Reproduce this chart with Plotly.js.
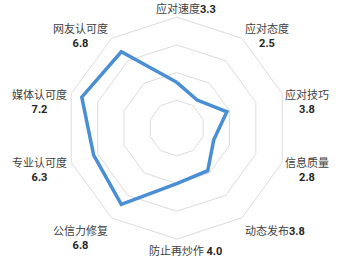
<!DOCTYPE html>
<html><head><meta charset="utf-8">
<script src="https://cdn.plot.ly/plotly-3.0.1.min.js"></script>
<style>html,body{margin:0;padding:0;background:#fff}#c{width:350px;height:259px}</style>
</head><body><div id="c"></div>
<script>
const categories = ["应对速度","应对态度","应对技巧","信息质量","动态发布","防止再炒作","公信力修复","专业认可度","媒体认可度","网友认可度"];
const values = [3.3, 2.5, 3.8, 2.8, 3.8, 4.0, 6.8, 6.3, 7.2, 6.8];
const valueLabels = ["3.3","2.5","3.8","2.8","3.8","4.0","6.8","6.3","7.2","6.8"];
const labelJoin = ["", "<br>", "<br>", "<br>", "", " ", "<br>", "<br>", "<br>", "<br>"];

const W = 350, H = 259;
const dom = {x: [0.188, 0.822], y: [0.077, 0.934]};
const cx = (dom.x[0] + dom.x[1]) / 2 * W;
const cy = (1 - (dom.y[0] + dom.y[1]) / 2) * H;
const R = Math.min((dom.x[1] - dom.x[0]) * W, (dom.y[1] - dom.y[0]) * H) / 2;

const numFont = "font-family:Roboto;font-weight:bold;font-size:11px;color:#262626";
const annotations = categories.map((c, i) => {
  const ang = (90 - i * 360 / categories.length) * Math.PI / 180;
  const cs = Math.cos(ang), sn = Math.sin(ang);
  const px = cx + R * cs, py = cy - R * sn;
  let xanchor = "center", yanchor = "middle", xshift = 0, yshift = 0;
  if (sn > 0.9) { yanchor = "bottom"; yshift = 0; xshift = 9; }
  else if (sn < -0.9) { yanchor = "top"; yshift = -2; xshift = 9; }
  else {
    xanchor = cs > 0 ? "left" : "right";
    xshift = cs > 0 ? 2 : -3;
    if (sn > 0.5) { yanchor = "middle"; yshift = 3; }
    else if (sn > -0.5) { yanchor = "middle"; yshift = -7; }
    else { yanchor = "top"; yshift = -3; }
  }
  return {
    xref: "paper", yref: "paper", x: px / W, y: 1 - py / H,
    xanchor, yanchor, xshift, yshift, align: "center", showarrow: false, borderpad: 0,
    text: c + labelJoin[i] + "<span style='" + numFont + "'>" + valueLabels[i] + "</span>",
    font: {family: "Noto Sans CJK SC", size: 11, color: "#404040"}
  };
});

const trace = {
  type: "scatterpolar",
  r: values.concat([values[0]]),
  theta: categories.concat([categories[0]]),
  mode: "lines",
  line: {color: "#4a8fd4", width: 3.5},
  hoverinfo: "skip"
};

const layout = {
  width: W, height: H,
  margin: {l:0, r:0, t:0, b:0},
  paper_bgcolor: "#fff",
  showlegend: false,
  font: {family: "Noto Sans CJK SC, sans-serif", size: 11, color: "#404040"},
  annotations: annotations,
  polar: {
    domain: dom,
    gridshape: "linear",
    bgcolor: "#fff",
    radialaxis: {range: [0, 8], dtick: 2, showticklabels: false, ticks: "", showline: false, gridcolor: "#dcdcdc", gridwidth: 1},
    angularaxis: {direction: "clockwise", rotation: 90, showgrid: false, ticks: "", linecolor: "#dcdcdc", linewidth: 1,
      showticklabels: false}
  }
};
Plotly.newPlot("c", [trace], layout, {staticPlot: true, displayModeBar: false});
</script></body></html>
